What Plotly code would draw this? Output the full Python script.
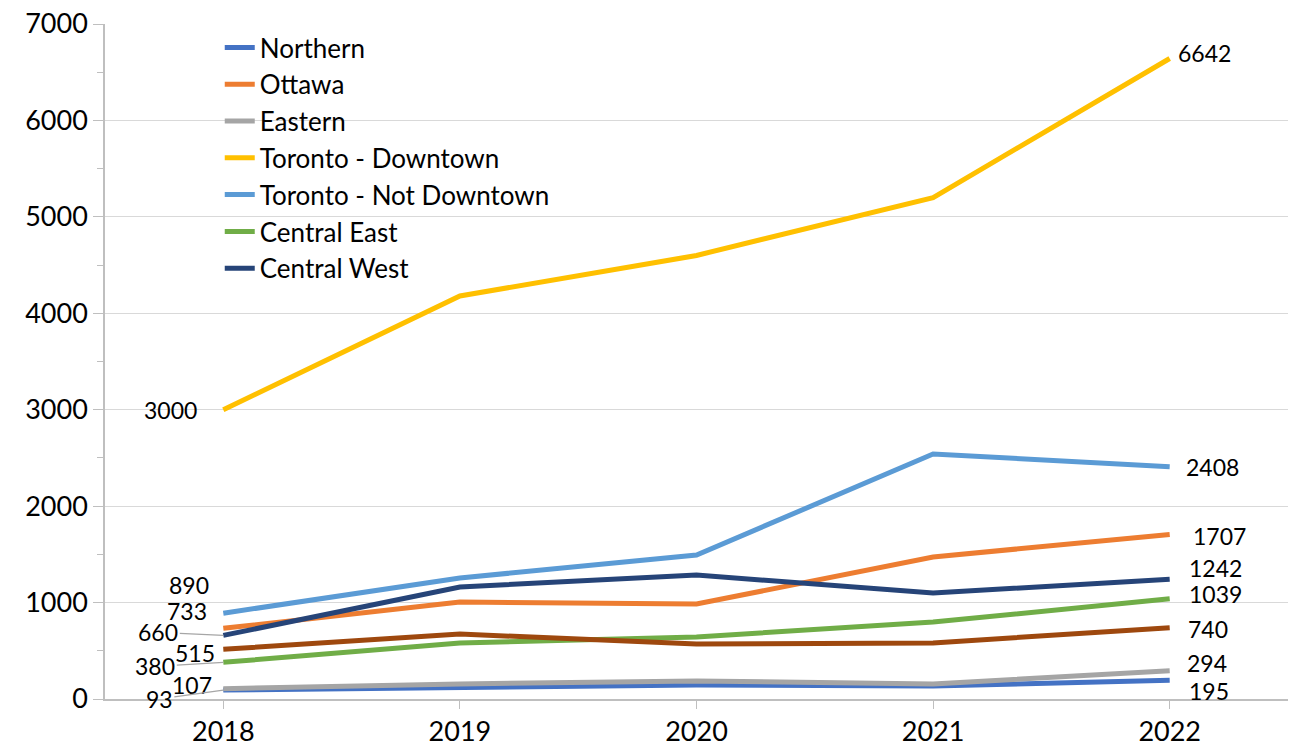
import plotly.graph_objects as go

years = ["2018", "2019", "2020", "2021", "2022"]

northern = [93, 124, 145, 135, 195]
ottawa = [733, 1006, 985, 1473, 1707]
eastern = [107, 156, 187, 156, 294]
toronto_downtown = [3000, 4180, 4600, 5200, 6642]
toronto_not_downtown = [890, 1255, 1493, 2541, 2408]
central_east = [380, 581, 643, 798, 1039]
central_west = [660, 1161, 1286, 1099, 1242]
western = [515, 674, 570, 581, 740]

series = [
    ("Northern", northern, "#4472C4", True),
    ("Ottawa", ottawa, "#ED7D31", True),
    ("Eastern", eastern, "#A5A5A5", True),
    ("Toronto - Downtown", toronto_downtown, "#FFC000", True),
    ("Toronto - Not Downtown", toronto_not_downtown, "#5B9BD5", True),
    ("Central East", central_east, "#70AD47", True),
    ("Central West", central_west, "#264478", True),
    ("Western", western, "#9E480E", False),
]

FONT = "Lato, 'Gill Sans', 'Open Sans', sans-serif"
LBL = dict(size=23, color="black", family=FONT)

fig = go.Figure()
for name, vals, color, show in series:
    fig.add_trace(go.Scatter(
        x=years, y=vals, mode="lines", name=name,
        line=dict(color=color, width=5),
        showlegend=show,
    ))

first = 0
last = len(years) - 1

# start labels: (values, xshift, yshift) for plain labels
start_plain = [
    (toronto_downtown, -24, 0),
    (toronto_not_downtown, -12, 28),
    (ottawa, -14, 17),
    (western, -6, -4),
    (eastern, -9, 4),
]
# start labels with leader lines: (values, ax, ay)
start_leader = [
    (central_west, -65, -3),
    (central_east, -68, 4),
    (northern, -64, 9),
]
ann = []
for vals, dx, dy in start_plain:
    ann.append(dict(x=first, y=vals[0], text=str(vals[0]), showarrow=False,
                    xanchor="right", xshift=dx, yshift=dy, font=LBL))
for vals, ax, ay in start_leader:
    ann.append(dict(x=first, y=vals[0], text=str(vals[0]), showarrow=True,
                    ax=ax, ay=ay, arrowhead=0, arrowwidth=1.3, arrowcolor="#A6A6A6",
                    standoff=0, font=LBL))

end_labels = [
    (toronto_downtown, 6, 6),
    (toronto_not_downtown, 14, 0),
    (ottawa, 21, -2),
    (central_west, 17, 11),
    (central_east, 17, 5),
    (western, 16, -1),
    (eastern, 15, 8),
    (northern, 17, -11),
]
for vals, dx, dy in end_labels:
    ann.append(dict(x=last, y=vals[-1], text=str(vals[-1]), showarrow=False,
                    xanchor="left", xshift=dx, yshift=dy, font=LBL))

fig.update_layout(
    width=1291, height=752,
    margin=dict(l=105, r=3, t=24, b=53),
    paper_bgcolor="white", plot_bgcolor="white",
    font=dict(family=FONT, size=27, color="black"),
    showlegend=True,
    legend=dict(x=0.097, y=1.0, xanchor="left", yanchor="top",
                bgcolor="rgba(0,0,0,0)", font=dict(size=26, family=FONT),
                tracegroupgap=0),
    annotations=ann,
)
fig.update_xaxes(
    type="category", range=[-0.5, 4.5],
    showline=True, linecolor="#BFBFBF", linewidth=1.5,
    ticks="outside", ticklen=8, tickcolor="#BFBFBF",
    showgrid=False, tickfont=dict(size=27, family=FONT),
)
fig.update_yaxes(
    range=[0, 7000], dtick=1000,
    showline=True, linecolor="#BFBFBF", linewidth=1.5,
    ticks="outside", ticklen=10, tickcolor="#BFBFBF",
    minor=dict(dtick=500, ticks="outside", ticklen=6, tickcolor="#BFBFBF", showgrid=False),
    showgrid=True, gridcolor="#D9D9D9", gridwidth=1.2,
    zeroline=False, tickfont=dict(size=27, family=FONT),
)

fig.write_html("out.html", config={"displayModeBar": False},
               post_script="document.body.style.margin='0';")
